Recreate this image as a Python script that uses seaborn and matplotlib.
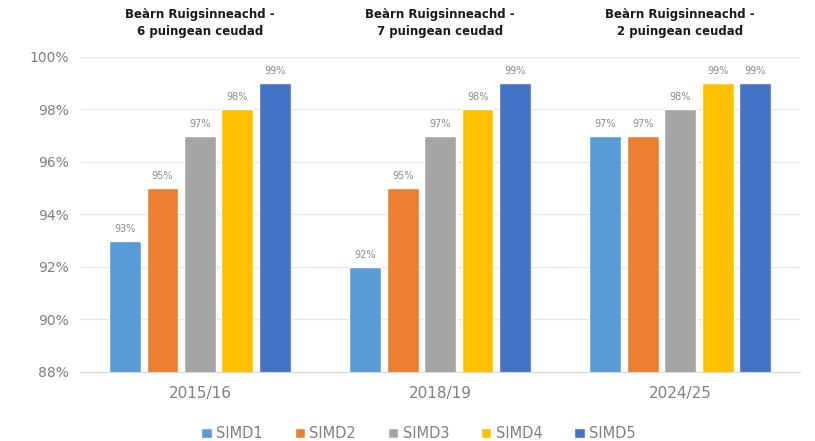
import pandas as pd
import matplotlib.pyplot as plt
import matplotlib.transforms as mtransforms
import seaborn as sns

# data
years = ['2015/16', '2018/19', '2024/25']
groups = ['SIMD1', 'SIMD2', 'SIMD3', 'SIMD4', 'SIMD5']
simd1 = [93, 92, 97]
simd2 = [95, 95, 97]
simd3 = [97, 97, 98]
simd4 = [98, 98, 99]
simd5 = [99, 99, 99]
gap_titles = ['Beàrn Ruigsinneachd -\n6 puingean ceudad',
              'Beàrn Ruigsinneachd -\n7 puingean ceudad',
              'Beàrn Ruigsinneachd -\n2 puingean ceudad']

palette = ['#5B9BD5', '#ED7D31', '#A5A5A5', '#FFC000', '#4472C4']

rows = []
for name, vals in zip(groups, [simd1, simd2, simd3, simd4, simd5]):
    for yr, v in zip(years, vals):
        rows.append({'year': yr, 'simd': name, 'value': v})
df = pd.DataFrame(rows)

sns.set_style('white')
plt.rcParams['font.family'] = ['DejaVu Sans']

fig = plt.figure(figsize=(8.15, 4.41), dpi=100)
ax = fig.add_axes([0.098, 0.157, 0.884, 0.714])

sns.barplot(data=df, x='year', y='value', hue='simd', order=years,
            hue_order=groups, palette=palette, width=0.78, gap=0.15,
            saturation=1, ax=ax)

ax.set_ylim(88, 100)
ax.set_yticks(range(88, 101, 2))
ax.set_yticklabels([f'{t}%' for t in range(88, 101, 2)], color='#808080', fontsize=10)
ax.grid(axis='y', color='#E6E6E6', linewidth=0.9)
ax.set_axisbelow(True)
ax.tick_params(axis='x', colors='#808080', labelsize=11, length=0, pad=10)
ax.tick_params(axis='y', length=0, pad=8)
ax.set_xlabel('')
ax.set_ylabel('')
sns.despine(ax=ax, left=True, bottom=True)
ax.spines['bottom'].set_visible(True)
ax.spines['bottom'].set_color('#D9D9D9')

for cont in ax.containers:
    ax.bar_label(cont, labels=[f'{v:.0f}%' for v in cont.datavalues],
                 color='#8C8C8C', fontsize=7, padding=5)

trans = mtransforms.blended_transform_factory(ax.transData, fig.transFigure)
for i, t in enumerate(gap_titles):
    ax.text(i, 0.948, t, transform=trans, ha='center', va='center',
            fontsize=8.5, fontweight='bold', color='#1A1A1A', linespacing=1.4)

ax.legend(loc='upper center', bbox_to_anchor=(0.47, -0.13), ncol=5,
          frameon=False, fontsize=10.5, handlelength=0.7, handleheight=0.7,
          columnspacing=2.2, handletextpad=0.3, labelcolor='#808080')

fig.savefig('out.png', dpi=100)
